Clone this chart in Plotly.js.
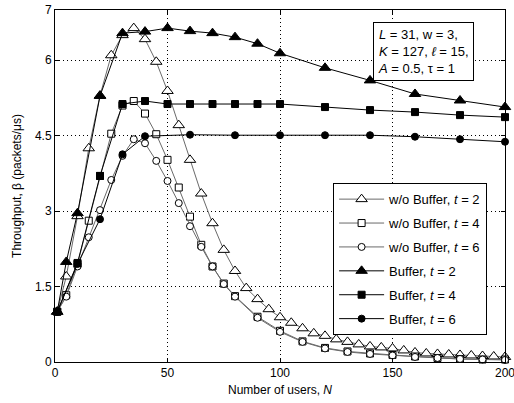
<!DOCTYPE html>
<html>
<head>
<meta charset="utf-8">
<script src="https://cdn.plot.ly/plotly-3.0.1.min.js"></script>
<style>html,body{margin:0;padding:0;background:#fff;}#chart{width:514px;height:403px;}</style>
</head>
<body>
<div id="chart"></div>
<script>
// Number of users N and throughput values
const N_wo2 = [1,5,10,15,20,25,30,35,40,45,50,55,60,65,70,75,80,85,90,95,100,105,110,115,120,125,130,135,140,145,150,155,160,165,170,175,180,185,190,195,200];
const B_wo2 = [1.0,1.7,2.9,4.25,5.3,6.1,6.5,6.64,6.42,5.97,5.39,4.71,4.02,3.35,2.76,2.23,1.81,1.47,1.25,1.05,0.89,0.78,0.67,0.57,0.52,0.45,0.40,0.35,0.31,0.29,0.27,0.23,0.19,0.17,0.16,0.15,0.14,0.13,0.12,0.11,0.10];

const N_wo4 = [1,5,10,15,20,25,30,35,40,45,50,55,60,65,70,75,80,90,100,110,120,130,140,150,160,170,180,190,200];
const B_wo4 = [1.0,1.33,1.95,2.81,3.7,4.54,5.1,5.19,4.94,4.53,4.02,3.47,2.89,2.33,1.9,1.56,1.31,0.9,0.62,0.41,0.28,0.21,0.17,0.14,0.11,0.08,0.06,0.05,0.05];

const N_wo6 = [1,5,10,15,20,25,30,35,40,45,50,55,60,65,70,75,80,90,100,110,120,130,140,150,160,170,180,190,200];
const B_wo6 = [1.0,1.3,1.9,2.48,3.02,3.62,4.1,4.43,4.35,4.0,3.6,3.16,2.7,2.29,1.9,1.55,1.3,0.88,0.6,0.4,0.27,0.2,0.16,0.13,0.1,0.08,0.06,0.05,0.04];

const N_b2 = [1,5,10,20,30,40,50,60,70,80,90,100,120,140,160,180,200];
const B_b2 = [1.0,1.99,2.96,5.29,6.54,6.57,6.64,6.58,6.54,6.46,6.33,6.14,5.85,5.6,5.33,5.2,5.07];

const N_b4 = [1,10,20,30,40,50,60,70,80,90,100,120,140,160,180,200];
const B_b4 = [1.0,1.97,3.7,5.13,5.19,5.13,5.13,5.13,5.13,5.13,5.13,5.07,5.01,4.97,4.91,4.87];

const N_b6 = [1,10,20,30,40,60,80,100,120,140,160,180,200];
const B_b6 = [1.0,1.95,2.84,4.13,4.49,4.52,4.51,4.51,4.51,4.51,4.48,4.43,4.38];

const seriesNames = ['w/o Buffer, <i>t</i> = 2','w/o Buffer, <i>t</i> = 4','w/o Buffer, <i>t</i> = 6','Buffer, <i>t</i> = 2','Buffer, <i>t</i> = 4','Buffer, <i>t</i> = 6'];
const xTicks = [0,50,100,150,200];
const yTicks = [0,1.5,3,4.5,6,7];
const yTickText = ['0','1.5','3','4.5','6','7'];

const grayLine = '#6a6a6a';
function tr(x, y, name, sym, size, fill, lineCol, grp) {
  return {
    x: x, y: y, name: name, type: 'scatter', mode: 'lines+markers',
    cliponaxis: false, legendgroup: grp,
    line: {color: lineCol, width: 1},
    marker: {symbol: sym, size: size, color: fill, line: {color: '#000', width: 1}}
  };
}
const data = [
  tr(N_wo2, B_wo2, seriesNames[0], 'triangle-up', 10, '#fff', grayLine, 'a'),
  tr(N_wo4, B_wo4, seriesNames[1], 'square', 7, '#fff', grayLine, 'b'),
  tr(N_wo6, B_wo6, seriesNames[2], 'circle', 7, '#fff', grayLine, 'c'),
  tr(N_b2, B_b2, seriesNames[3], 'triangle-up', 10, '#000', '#000', 'd'),
  tr(N_b4, B_b4, seriesNames[4], 'square', 7, '#000', '#000', 'e'),
  tr(N_b6, B_b6, seriesNames[5], 'circle', 7, '#000', '#000', 'f')
];

const axisCommon = {
  showline: true, mirror: 'ticks', linecolor: '#000', linewidth: 1,
  ticks: 'inside', ticklen: 4, tickcolor: '#000',
  showgrid: true, gridcolor: '#000', griddash: '1px,3px', gridwidth: 1,
  zeroline: false, tickfont: {size: 12, color: '#000'},
  ticklabeloverflow: 'allow'
};

const layout = {
  width: 514, height: 403,
  margin: {l: 55, r: 9, t: 10, b: 41},
  paper_bgcolor: '#fff', plot_bgcolor: '#fff',
  font: {family: 'Liberation Sans, Arial, sans-serif', color: '#000', size: 12},
  xaxis: Object.assign({}, axisCommon, {
    range: [0, 200], tickvals: xTicks,
    title: {text: 'Number of users, <i>N</i>', standoff: 6, font: {size: 12}}
  }),
  yaxis: Object.assign({}, axisCommon, {
    range: [0, 7], tickvals: yTicks, ticktext: yTickText,
    title: {text: 'Throughput, β (packets/μs)', standoff: 10, font: {size: 12}}
  }),
  showlegend: true,
  legend: {
    x: 0.618, y: 0.508, xanchor: 'left', yanchor: 'top',
    bgcolor: '#fff', bordercolor: '#000', borderwidth: 1,
    font: {size: 13, color: '#000'}, itemwidth: 45,
    traceorder: 'grouped', tracegroupgap: 4
  },
  annotations: [{
    xref: 'paper', yref: 'paper', x: 0.707, y: 0.966,
    xanchor: 'left', yanchor: 'top', align: 'left', showarrow: false,
    text: '<i>L</i> = 31, w = 3,<br><i>K</i> = 127, <i>ℓ</i> = 15,<br><i>A</i> = 0.5, τ = 1',
    font: {size: 13, color: '#000'},
    bgcolor: '#fff', bordercolor: '#000', borderwidth: 1, borderpad: 4
  }]
};

Plotly.newPlot('chart', data, layout, {displayModeBar: false, staticPlot: true});
</script>
</body>
</html>
